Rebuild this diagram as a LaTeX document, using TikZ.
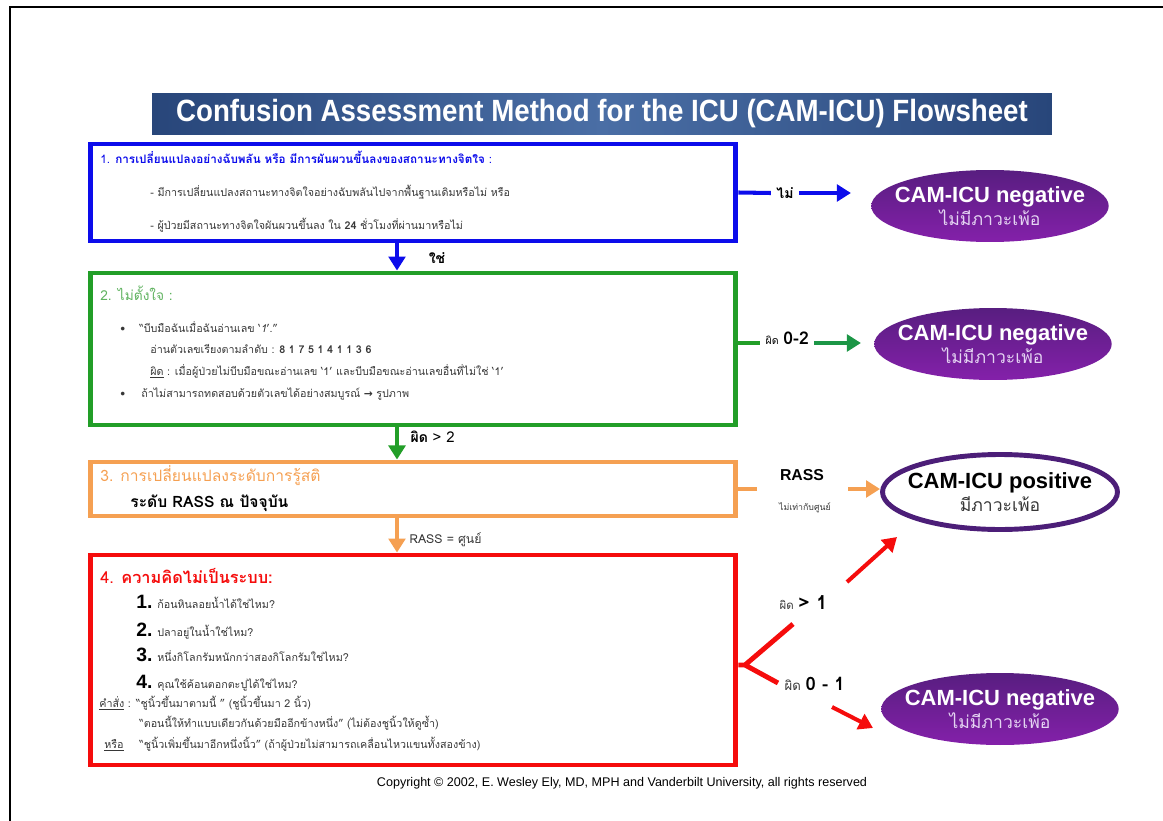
\documentclass[tikz,border=0pt]{standalone}
\usepackage{fontspec}
\usepackage{tikz}
\usetikzlibrary{shapes.geometric,arrows.meta,calc}
\setmainfont{Liberation Sans}
\newfontfamily\thai[Script=Thai]{Loma}
\newfontfamily\dejavu{DejaVu Sans}
\definecolor{cblue}{RGB}{12,12,235}
\definecolor{cgreen}{RGB}{34,158,40}
\definecolor{cgreentxt}{RGB}{95,178,95}
\definecolor{carrgreen}{RGB}{28,150,70}
\definecolor{corange}{RGB}{245,160,82}
\definecolor{cred}{RGB}{245,12,12}
\definecolor{cpurtop}{RGB}{88,30,128}
\definecolor{cpurbot}{RGB}{132,32,170}
\definecolor{cpurline}{RGB}{76,30,120}
\definecolor{cbaredge}{RGB}{40,70,122}
\definecolor{cbarmid}{RGB}{74,110,165}
\definecolor{cbody}{RGB}{55,55,55}
\definecolor{clav}{RGB}{228,212,242}
\newcommand{\thsz}[1]{\thai\fontsize{#1}{#1}\selectfont}
\newcommand{\outtext}[2]{\bfseries\fontsize{12.5}{14}\selectfont #1\\[1.5pt] {\thsz{10}#2}}
\tikzset{
	stepbox/.style={draw, line width=2.8pt, minimum width=12.92cm, inner sep=0pt},
	txt/.style={anchor=base west, inner sep=0pt, text=cbody, font=\thsz{6.1}},
	lbl/.style={inner sep=3pt, font=\thsz{8}},
	flow/.style={line width=2.3pt, -{Triangle[length=8pt,width=9.5pt]}},
	negative/.style={ellipse, minimum width=4.75cm, minimum height=1.44cm, inner xsep=-0.26cm, inner ysep=0pt,
		top color=cpurtop, bottom color=cpurbot, draw=none, align=center, text=white},
}
\begin{document}
\begin{tikzpicture}[x=0.02cm,y=-0.02cm]
	\useasboundingbox (0,0) rectangle (1163,821);
	\draw[line width=1.2pt] (10,821) -- (10,7) -- (1163,7);
	% title bar
	\node (title) [minimum width=18cm, minimum height=0.84cm, left color=cbaredge, right color=cbaredge, middle color=cbarmid, text=white, font=\bfseries\fontsize{17.5}{17.5}\selectfont] at (602,114) {\scalebox{0.9}[1]{Confusion Assessment Method for the ICU (CAM-ICU) Flowsheet}};
	% steps
	\node (b1) [stepbox, draw=cblue, minimum height=1.94cm] at (413,192.5) {};
	\node (b2) [stepbox, draw=cgreen, minimum height=3.04cm] at (413,349) {};
	\node (b3) [stepbox, draw=corange, minimum height=1.08cm] at (413,489) {};
	\node (b4) [stepbox, draw=cred, minimum height=4.2cm] at (413,660) {};
	% step 1
	\node (t11) [txt, text=cblue, font=\thsz{6.65}] at (100,163) {1. \textbf{การเปลี่ยนแปลงอย่างฉับพลัน หรือ มีการผันผวนขึ้นลงของสถานะทางจิตใจ} :};
	\node (t12) [txt] at (150,196) {- มีการเปลี่ยนแปลงสถานะทางจิตใจอย่างฉับพลันไปจากพื้นฐานเดิมหรือไม่ หรือ};
	\node (t13) [txt] at (150,229) {- ผู้ป่วยมีสถานะทางจิตใจผันผวนขึ้นลง ใน \textbf{24} ชั่วโมงที่ผ่านมาหรือไม่};
	% step 2
	\node (t21) [txt, text=cgreentxt, font=\thsz{7.8}] at (100,300) {2. ไม่ตั้งใจ :};
	\node (t22) [txt] at (120,332) {\makebox[0.38cm][l]{\textbullet}“บีบมือฉันเมื่อฉันอ่านเลข ‘\textit{1}’.”};
	\node (t23) [txt] at (150,353) {อ่านตัวเลขเรียงตามลำดับ : \textbf{8 1 7 5 1 4 1 1 3 6}};
	\node (t24) [txt] at (150,375) {\underline{ผิด} : เมื่อผู้ป่วยไม่บีบมือขณะอ่านเลข ‘1’ และบีบมือขณะอ่านเลขอื่นที่ไม่ใช่ ‘1’};
	\node (t25) [txt] at (120,397) {\makebox[0.42cm][l]{\textbullet}ถ้าไม่สามารถทดสอบด้วยตัวเลขได้อย่างสมบูรณ์ {\dejavu\bfseries →} รูปภาพ};
	% step 3
	\node (t31) [txt, text=corange, font=\thsz{8.9}] at (100,481) {3. การเปลี่ยนแปลงระดับการรู้สติ};
	\node (t32) [txt, text=black, font=\thsz{8.9}\bfseries] at (130,507) {ระดับ RASS ณ ปัจจุบัน};
	% step 4
	\node (t41) [txt, text=cred, font=\thsz{9.3}] at (100,583) {4. \textbf{ความคิดไม่เป็นระบบ:}};
	\foreach \n/\q [count=\i] in {608/ก้อนหินลอยน้ำได้ใช่ไหม?, 636/ปลาอยู่ในน้ำใช่ไหม?, 661/หนึ่งกิโลกรัมหนักกว่าสองกิโลกรัมใช่ไหม?, 688/คุณใช้ค้อนตอกตะปูได้ใช่ไหม?}
		\node (q\i) [txt] at (136,\n) {\makebox[0.42cm][l]{\rmfamily\bfseries\fontsize{11}{11}\selectfont\color{black}\i.}\q};
	\node (t42) [txt] at (99,707) {\underline{คำสั่ง} :\hspace{3pt}“ชูนิ้วขึ้นมาตามนี้ ” (ชูนิ้วขึ้นมา 2 นิ้ว)};
	\node (t43) [txt] at (139,727) {“ตอนนี้ให้ทำแบบเดียวกันด้วยมืออีกข้างหนึ่ง” (ไม่ต้องชูนิ้วให้ดูซ้ำ)};
	\node (t44) [txt] at (104,748) {\makebox[0.7cm][l]{\underline{หรือ}}“ชูนิ้วเพิ่มขึ้นมาอีกหนึ่งนิ้ว” (ถ้าผู้ป่วยไม่สามารถเคลื่อนไหวแขนทั้งสองข้าง)};
	% outcomes
	\node (neg1) [negative] at (990,206) {\outtext{CAM-ICU negative}{\color{clav}ไม่มีภาวะเพ้อ}};
	\node (neg2) [negative] at (993,344) {\outtext{CAM-ICU negative}{\color{clav}ไม่มีภาวะเพ้อ}};
	\node (pos) [ellipse, draw=cpurline, line width=2.8pt, fill=white, minimum width=4.7cm, minimum height=1.5cm, inner xsep=-0.3cm, inner ysep=0pt, align=center] at (1000,492) {\outtext{\fontsize{12.5}{14}\selectfont CAM-ICU positive}{\color{cbody}มีภาวะเพ้อ}};
	\node (neg3) [negative] at (1000,709) {\outtext{CAM-ICU negative}{\color{clav}ไม่มีภาวะเพ้อ}};
	% labels
	\node (lyes) [lbl, font=\thsz{8}\bfseries] at (437,258) {ใช่};
	\node (lno) [lbl, font=\thsz{8}\bfseries] at (785,193) {ไม่};
	\node (l2a) [lbl, anchor=west] at (760,338) {{\thsz{6}ผิด} {\bfseries\fontsize{10}{10}\selectfont 0-2}};
	\node (l2b) [lbl, anchor=west] at (405,437) {{\thsz{8}\bfseries ผิด} {\fontsize{8.5}{9}\selectfont > 2}};
	\node (l3a) [lbl, font=\bfseries\fontsize{9}{9}\selectfont] at (802,475) {RASS};
	\node (l3b) [lbl, font=\thsz{5}, text=cbody] at (805,508) {ไม่เท่ากับศูนย์};
	\node (l3c) [lbl, anchor=west, text=cbody] at (404,540) {\fontsize{7}{7}\selectfont RASS = {\thsz{7}ศูนย์}};
	\node (l4a) [lbl, anchor=west] at (774,603) {{\thsz{6.5}\color{cbody}ผิด} {\bfseries\fontsize{11}{11}\selectfont > 1}};
	\node (l4b) [lbl, anchor=west] at (779,684) {{\thsz{7.5}\color{cbody}ผิด} {\bfseries\fontsize{10.5}{11}\selectfont 0 - 1}};
	\node (copy) [font=\fontsize{7.15}{8}\selectfont] at (622,783) {Copyright © 2002, E. Wesley Ely, MD, MPH and Vanderbilt University, all rights reserved};
	% connectors
	\draw[flow, cblue] ([xshift=-0.32cm]b1.south) -- ([xshift=-0.32cm]b2.north);
	\draw[flow, cgreen] ([xshift=-0.32cm]b2.south) -- ([xshift=-0.32cm]b3.north);
	\draw[flow, corange] ([xshift=-0.32cm]b3.south) -- ([xshift=-0.32cm]b4.north);
	\draw[line width=2.3pt, cblue] (b1.east) -- (lno.west);
	\draw[flow, cblue] (lno.east) -- ([xshift=-0.4cm]neg1.west |- lno);
	\draw[line width=2.3pt, cgreen] ([yshift=-0.1cm]b2.east |- l2a) -- ([yshift=-0.1cm]l2a.west);
	\draw[flow, carrgreen] ([yshift=-0.1cm]l2a.east) -- ([xshift=-0.26cm,yshift=-0.1cm]neg2.west |- l2a);
	\draw[line width=2.3pt, corange] (b3.east) -- ++(19,0);
	\draw[flow, corange] ([xshift=2.2cm]b3.east) -- (pos.west |- b3.east);
	\coordinate (fork) at (745,665);
	\coordinate (fup) at (793,624);
	\coordinate (fdn) at (778,683);
	\coordinate (ua) at (847,582);
	\coordinate (ub) at (897,537);
	\coordinate (la) at (832,707);
	\coordinate (lb) at (873,728);
	\draw[line width=2.8pt, cred] (b4.east |- fork) -- (fork) -- (fup) (fork) -- (fdn);
	\draw[flow, cred] (ua) -- (ub);
	\draw[flow, cred] (la) -- (lb);
\end{tikzpicture}
\end{document}
